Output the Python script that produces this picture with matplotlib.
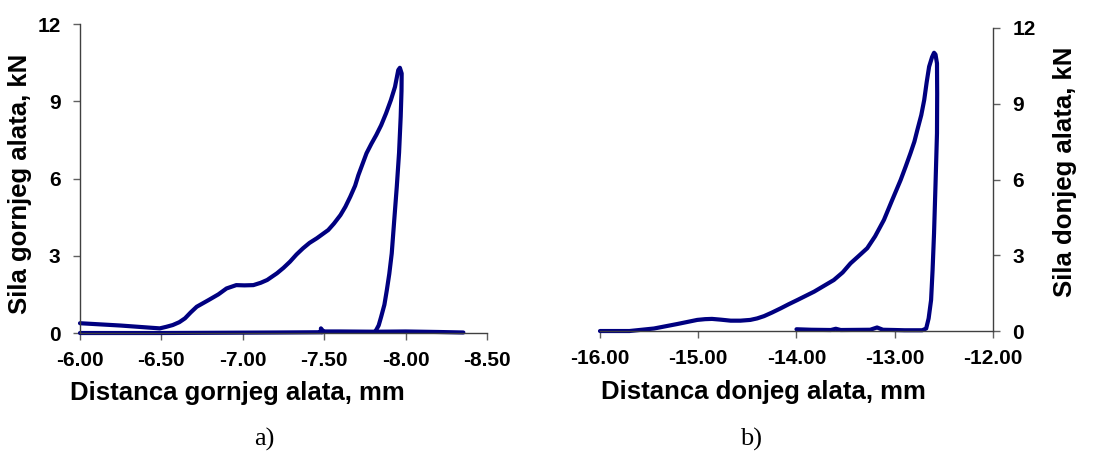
import numpy as np
import matplotlib.pyplot as plt

# Panel a) - upper tool: distance [mm] vs force [kN]
dist_a = [-6.00, -6.25, -6.49, -6.53, -6.57, -6.61, -6.645, -6.68, -6.717,
          -6.79, -6.85, -6.90, -6.96, -7.01, -7.065, -7.11, -7.15, -7.21,
          -7.25, -7.29, -7.33, -7.37, -7.41, -7.455, -7.525, -7.56, -7.60,
          -7.63, -7.66, -7.69, -7.71, -7.76, -7.79, -7.82, -7.85, -7.88,
          -7.91, -7.935, -7.955, -7.965, -7.976, -7.975, -7.97, -7.96,
          -7.946, -7.93, -7.915, -7.90, -7.885, -7.87, -7.85, -7.835,
          -7.82, -7.81, -7.60, -7.50, -7.49, -7.48, -7.48, -7.49, -7.20,
          -6.50, -6.00]
force_a = [0.38, 0.29, 0.18, 0.24, 0.31, 0.42, 0.57, 0.80, 1.02,
           1.28, 1.50, 1.73, 1.86, 1.85, 1.86, 1.95, 2.06, 2.32,
           2.53, 2.77, 3.05, 3.29, 3.50, 3.68, 4.00, 4.25, 4.58,
           4.90, 5.29, 5.72, 6.13, 6.98, 7.35, 7.69, 8.07, 8.53,
           9.05, 9.56, 10.21, 10.30, 10.08, 9.40, 8.40, 7.00,
           5.68, 4.35, 3.09, 2.30, 1.67, 1.10, 0.63, 0.30,
           0.12, 0.05, 0.06, 0.06, 0.10, 0.18, 0.05, 0.03, 0.02,
           0.0, 0.0]
# tail running beyond the turning point along zero force
dist_a_tail = [-7.81, -8.00, -8.20, -8.355]
force_a_tail = [0.05, 0.06, 0.04, 0.02]

# Panel b) - lower tool
dist_b = [-16.0, -15.70, -15.45, -15.21, -15.01, -14.93, -14.86, -14.77,
          -14.67, -14.57, -14.47, -14.40, -14.33, -14.25, -14.16, -14.08,
          -13.99, -13.82, -13.62, -13.53, -13.45, -13.37, -13.28, -13.20,
          -13.11, -13.03, -12.94, -12.89, -12.84, -12.80, -12.77, -12.73,
          -12.70, -12.675, -12.65, -12.62, -12.60, -12.585, -12.57, -12.568,
          -12.57, -12.585, -12.60, -12.615, -12.63, -12.655, -12.68, -12.72,
          -12.90, -13.00, -13.12, -13.18, -13.25, -13.55, -13.60, -13.65,
          -13.85, -14.00]
force_b = [0.0, 0.0, 0.10, 0.28, 0.44, 0.47, 0.48, 0.45,
           0.41, 0.41, 0.44, 0.50, 0.59, 0.73, 0.90, 1.06,
           1.23, 1.56, 2.02, 2.32, 2.68, 2.96, 3.28, 3.75,
           4.40, 5.15, 5.98, 6.50, 7.04, 7.50, 7.96, 8.55,
           9.15, 9.85, 10.47, 10.85, 11.02, 10.95, 10.60, 9.40,
           7.83, 5.80, 3.87, 2.40, 1.23, 0.50, 0.10, 0.03,
           0.03, 0.04, 0.05, 0.14, 0.05, 0.04, 0.09, 0.04,
           0.05, 0.07]

x_ticks_a = [-6.0, -6.5, -7.0, -7.5, -8.0, -8.5]
x_ticks_b = [-16.0, -15.0, -14.0, -13.0, -12.0]
y_ticks = [0, 3, 6, 9, 12]

line_col = '#000080'
bold = dict(family='Liberation Sans', weight='bold')

fig = plt.figure(figsize=(11.08, 4.62), dpi=100)
ax1 = fig.add_axes([0.0722, 0.2792, 0.3673, 0.6688])
ax2 = fig.add_axes([0.5415, 0.2835, 0.3547, 0.6559])

def style_axis(ax, side):
    for s in ax.spines.values():
        s.set_visible(False)
    ax.spines['bottom'].set_visible(True)
    ax.spines[side].set_visible(True)
    for s in ('bottom', side):
        ax.spines[s].set_color('#404040')
        ax.spines[s].set_linewidth(1.0)
    ax.tick_params(direction='out', length=5, width=1, color='#606060',
                   labelsize=15)
    ax.tick_params(axis='x', pad=8)
    ax.tick_params(axis='y', pad=9)
    for lab in ax.get_xticklabels() + ax.get_yticklabels():
        lab.set_fontfamily('Liberation Sans')
        lab.set_fontweight('bold')

# a)
ax1.plot(dist_a, force_a, color=line_col, lw=3, solid_capstyle='round',
         solid_joinstyle='round')
ax1.plot(dist_a_tail, force_a_tail, color=line_col, lw=3, solid_capstyle='round')
ax1.set_xlim(-6.0, -8.5)
ax1.set_ylim(0, 12)
ax1.set_xticks(x_ticks_a)
ax1.set_xticklabels(['%.2f' % v for v in x_ticks_a])
ax1.set_yticks(y_ticks)
ax1.set_yticklabels([str(v) for v in y_ticks])
style_axis(ax1, 'left')
ax1.set_xlabel('Distanca gornjeg alata, mm', fontsize=18.5, **bold)
ax1.set_ylabel('Sila gornjeg alata, kN', fontsize=18.5, **bold)
ax1.xaxis.set_label_coords(0.386, -0.155)
ax1.yaxis.set_label_coords(-0.118, 0.482)
for line in ax1.get_lines():
    line.set_clip_on(False)

# b)
ax2.plot(dist_b, force_b, color=line_col, lw=3, solid_capstyle='round',
         solid_joinstyle='round')
ax2.set_xlim(-16.0, -12.0)
ax2.set_ylim(0, 12)
ax2.set_xticks(x_ticks_b)
ax2.set_xticklabels(['%.2f' % v for v in x_ticks_b])
ax2.set_yticks(y_ticks)
ax2.set_yticklabels([str(v) for v in y_ticks])
ax2.yaxis.tick_right()
ax2.yaxis.set_label_position('right')
style_axis(ax2, 'right')
ax2.set_xlabel('Distanca donjeg alata, mm', fontsize=18.5, **bold)
ax2.set_ylabel('Sila donjeg alata, kN', fontsize=18.5, **bold)
ax2.xaxis.set_label_coords(0.417, -0.163)
ax2.yaxis.set_label_coords(1.152, 0.525)
for line in ax2.get_lines():
    line.set_clip_on(False)

fig.text(0.239, 0.048, 'a)', ha='center', va='center', fontsize=19,
         family='Liberation Serif')
fig.text(0.678, 0.048, 'b)', ha='center', va='center', fontsize=19,
         family='Liberation Serif')

fig.savefig('out.png', dpi=100)
